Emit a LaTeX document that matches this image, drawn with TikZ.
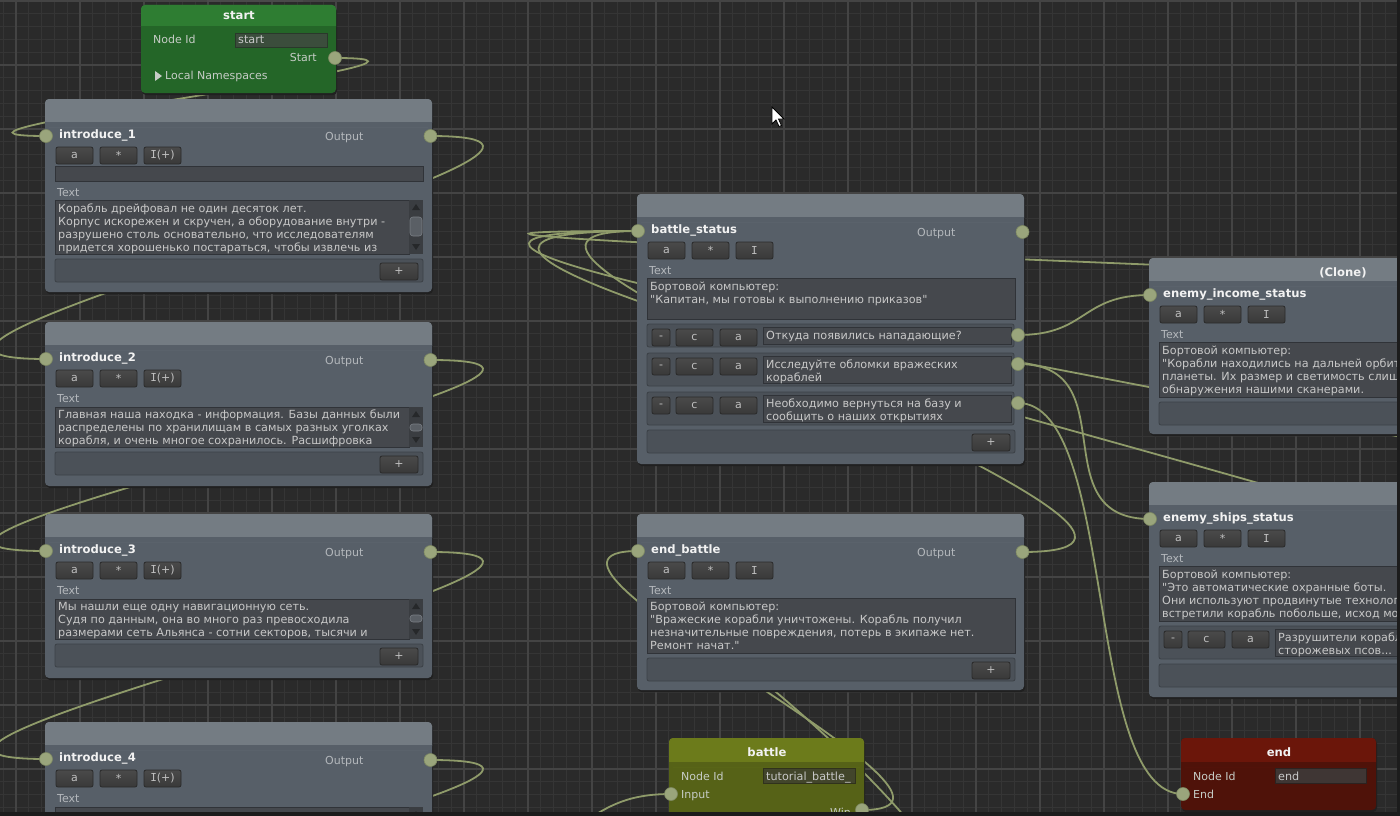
\documentclass[tikz,border=0pt]{standalone}
\usepackage{fontspec}
\setmainfont{DejaVu Sans}
\newfontfamily\monoI{DejaVu Sans Mono}
\usetikzlibrary{fit}
\pgfdeclarelayer{gridl}
\pgfdeclarelayer{wirel}
\pgfsetlayers{gridl,wirel,main}
\definecolor{bgc}{HTML}{2A2A2A}
\definecolor{gminor}{HTML}{353535}
\definecolor{gmajor}{HTML}{444444}
\definecolor{nbody}{HTML}{575F68}
\definecolor{nhead}{HTML}{747C83}
\definecolor{fieldc}{HTML}{45484D}
\definecolor{fieldb}{HTML}{303338}
\definecolor{barc}{HTML}{4B5158}
\definecolor{barb}{HTML}{3C4147}
\definecolor{btntop}{HTML}{4A4A4A}
\definecolor{btnbot}{HTML}{393939}
\definecolor{btnb}{HTML}{2A2A2A}
\definecolor{btnt}{HTML}{C0C0C0}
\definecolor{portc}{HTML}{9AA57C}
\definecolor{portd}{HTML}{7F8A63}
\definecolor{wirec}{HTML}{8F9B6A}
\definecolor{txtc}{HTML}{C8C8C8}
\definecolor{lblc}{HTML}{B4B8BC}
\definecolor{ttlc}{HTML}{F2F2F2}
\definecolor{shd}{HTML}{202020}
\definecolor{sgh}{HTML}{2E7D32}
\definecolor{sgb}{HTML}{246628}
\definecolor{sfc}{HTML}{3B4D3C}
\definecolor{sfb}{HTML}{2A382B}
\definecolor{bth}{HTML}{6C7B1B}
\definecolor{btb}{HTML}{566217}
\definecolor{bfc}{HTML}{42452B}
\definecolor{bfb}{HTML}{30321C}
\definecolor{enh}{HTML}{6B160A}
\definecolor{enb}{HTML}{4F1209}
\definecolor{efc}{HTML}{3F3634}
\definecolor{efb}{HTML}{2C2220}
\definecolor{clbl}{HTML}{C6CCC6}
\definecolor{scrbg}{HTML}{3A3D41}
\definecolor{scrar}{HTML}{26282A}
\definecolor{thumbc}{HTML}{5A5F65}
\definecolor{thumbb}{HTML}{7A7F85}
\definecolor{edgec}{HTML}{1C1C1C}
\definecolor{topbar}{HTML}{4A4A4A}
\newcommand{\uifs}{\fontsize{11.2}{13}\selectfont}
\newcommand{\uilf}{\fontsize{11}{13}\selectfont}
\newcommand{\uitf}{\bfseries\fontsize{11.6}{13}\selectfont}
\newcommand{\sq}{\XeTeXglyph\the\XeTeXcharglyph"22\relax}
\newcommand{\bI}{{\monoI I}}
\tikzset{
 port/.style={circle, fill=portc, draw=portd, line width=0.6pt, minimum size=13pt, inner sep=0pt},
 wire/.style={draw=wirec, line width=1.8pt},
 ttl/.style={anchor=base west, inner sep=0pt, text=ttlc, font=\uitf},
 lbl/.style={anchor=base west, inner sep=0pt, text=lblc, font=\uilf},
 body/.style={anchor=base west, inner sep=0pt, text=txtc, font=\uifs},
 btxt/.style={inner sep=0pt, text=btnt, font=\uilf},
 fieldbox/.style={fill=fieldc, draw=fieldb, line width=0.8pt},
 barbox/.style={fill=barc, draw=barb, line width=0.8pt, rounded corners=2pt},
 btnbox/.style={top color=btntop, bottom color=btnbot, draw=btnb, line width=0.8pt, rounded corners=2pt},
}
% frame: name,x1,y1,x2,y2,header bottom,header colour,body colour
\newcommand{\frm}[8]{%
 \fill[shd, rounded corners=4pt] (#2+1,#3+2) rectangle (#4+1,#5+2);
 \node[fit={(#2,#3)(#4,#5)}, inner sep=0pt, fill=#8, rounded corners=4pt] (#1) {};
 \fill[#7, rounded corners=4pt] (#2,#3) rectangle (#4,#6+5);
 \fill[#8] (#2,#6) rectangle (#4,#6+5);
}
\newcommand{\btn}[6]{%
 \path[btnbox] (#2,#3) rectangle (#4,#5);
 \node[btxt] (#1) at ({(#2+#4)/2},{(#3+#5)/2}) {#6};
}
\newcommand{\tl}[4]{\node[body] (#1) at (#2,#3) {#4};}
% grey node: name,x1,T,x2,B,title,third button
\newcommand{\gnode}[7]{%
 \frm{#1}{#2}{#3}{#4}{#5}{#3+23}{nhead}{nbody}
 \node[ttl] (#1t) at (#2+14,#3+39) {#6};
 \btn{#1ba}{#2+11}{#3+48}{#2+48}{#3+65}{a}
 \btn{#1bb}{#2+55}{#3+48}{#2+92}{#3+65}{*}
 \btn{#1bc}{#2+99}{#3+48}{#2+136}{#3+65}{#7}
 \node[port] (#1in) at (#2+1,#3+37) {};
}
\newcommand{\outp}[3]{%
 \node[lbl] (#1ol) at (#2-107,#3+4) {Output};
 \node[port] (#1out) at (#2-1.5,#3) {};
}
\newcommand{\choicerow}[7]{%
 \path[barbox] (#2+10,#4) rectangle (#3-10,#5);
 \btn{#1m}{#2+15}{#4+5}{#2+33}{#4+22}{-}
 \btn{#1c}{#2+39}{#4+5}{#2+76}{#4+22}{c}
 \btn{#1a}{#2+83}{#4+5}{#2+120}{#4+22}{a}
 \path[fieldbox] (#2+126,#4+3) rectangle (#3-13,#5-3);
 \node[body] (#1la) at (#2+129,#4+15) {#6};
 \node[body] (#1lb) at (#2+129,#4+28) {#7};
 \node[port] (#1p) at (#3-6,#4+11) {};
}
% scrollbar: name,x,y1,y2,thumb y1,thumb y2
\newcommand{\scb}[6]{%
 \fill[scrbg] (#2,#3) rectangle (#2+14,#4);
 \fill[scrar] (#2+3,#3+10) -- (#2+7,#3+4) -- (#2+11,#3+10) -- cycle;
 \fill[scrar] (#2+3,#4-10) -- (#2+7,#4-4) -- (#2+11,#4-10) -- cycle;
 \node[fit={(#2+1,#5)(#2+13,#6)}, inner sep=0pt, fill=thumbc, draw=thumbb, line width=0.6pt, rounded corners=3pt] (#1) {};
}
\begin{document}
\begin{tikzpicture}[x=1pt,y=-1pt]
\useasboundingbox (0,0) rectangle (1400,816);
\begin{pgfonlayer}{gridl}
 \fill[bgc] (0,0) rectangle (1400,816);
 \foreach \i in {0,...,109} \draw[gminor, line width=1pt] ({3.2+12.8*\i},0) -- ({3.2+12.8*\i},816);
 \foreach \j in {0,...,63} \draw[gminor, line width=1pt] (0,{1+12.8*\j}) -- (1400,{1+12.8*\j});
 \foreach \i in {0,...,21} \draw[gmajor, line width=1.2pt] ({16+64*\i},0) -- ({16+64*\i},816);
 \foreach \j in {0,...,12} \draw[gmajor, line width=1.2pt] (0,{1+64*\j}) -- (1400,{1+64*\j});
 \fill[topbar] (207,0) rectangle (303,2);
\end{pgfonlayer}

% ---- start node
\frm{start}{141}{5}{336}{93}{26}{sgh}{sgb}
\node[ttl,anchor=base] (startt) at (239,20) {start};
\node[lbl,text=clbl] (startnl) at (153,44) {Node Id};
\path[fill=sfc,draw=sfb,line width=0.8pt] (235,33) rectangle (327,47);
\node[body] (startfv) at (238,44) {start};
\node[lbl,text=clbl,anchor=base east] (startsl) at (317,62) {Start};
\node[port] (so) at (335,58) {};
\fill[clbl] (155,71) -- (162,76) -- (155,81) -- cycle;
\node[lbl,text=clbl] (startln) at (165,80) {Local Namespaces};

% ---- introduce_1
\gnode{ia}{45}{99}{432}{292}{introduce\_1}{\bI(+)}
\outp{ia}{432}{136}
\path[fieldbox] (55,166) rectangle (423,181);
\node[lbl] (iatx) at (57,196) {Text};
\path[fieldbox] (55,200) rectangle (409,254);
\scb{iasc}{409}{200}{254}{217}{236}
\tl{ial1}{58}{212}{Корабль дрейфовал не один десяток лет.}
\tl{ial2}{58}{225}{Корпус искорежен и скручен, а оборудование внутри -}
\tl{ial3}{58}{238}{разрушено столь основательно, что исследователям}
\tl{ial4}{58}{251}{придется хорошенько постараться, чтобы извлечь из}
\path[barbox] (55,259) rectangle (423,282);
\btn{iapl}{380}{263}{418}{280}{+}

% ---- introduce_2
\gnode{ib}{45}{322}{432}{486}{introduce\_2}{\bI(+)}
\outp{ib}{432}{360}
\node[lbl] (ibtx) at (57,402) {Text};
\path[fieldbox] (55,407) rectangle (409,447);
\scb{ibsc}{409}{407}{447}{424}{431}
\tl{ibl1}{58}{418}{Главная наша находка - информация. Базы данных были}
\tl{ibl2}{58}{431}{распределены по хранилищам в самых разных уголках}
\tl{ibl3}{58}{444}{корабля, и очень многое сохранилось. Расшифровка}
\path[barbox] (55,452) rectangle (423,475);
\btn{ibpl}{380}{456}{418}{473}{+}

% ---- introduce_3
\gnode{ic}{45}{514}{432}{678}{introduce\_3}{\bI(+)}
\outp{ic}{432}{552}
\node[lbl] (ictx) at (57,594) {Text};
\path[fieldbox] (55,599) rectangle (409,639);
\scb{icsc}{409}{599}{639}{615}{622}
\tl{icl1}{58}{610}{Мы нашли еще одну навигационную сеть.}
\tl{icl2}{58}{623}{Судя по данным, она во много раз превосходила}
\tl{icl3}{58}{636}{размерами сеть Альянса - сотни секторов, тысячи и}
\path[barbox] (55,644) rectangle (423,667);
\btn{icpl}{380}{648}{418}{665}{+}

% ---- introduce_4
\gnode{id}{45}{722}{432}{900}{introduce\_4}{\bI(+)}
\outp{id}{432}{760}
\node[lbl] (idtx) at (57,802) {Text};
\path[fieldbox] (55,807) rectangle (409,850);
\scb{idsc}{409}{807}{850}{822}{828}

% ---- battle_status
\gnode{bs}{637}{194}{1024}{464}{battle\_status}{\bI}
\outp{bs}{1024}{232}
\node[lbl] (bstx) at (649,274) {Text};
\path[fieldbox] (647,278) rectangle (1015,319);
\tl{bsl1}{650}{290}{Бортовой компьютер:}
\tl{bsl2}{650}{303}{\sq Капитан, мы готовы к выполнению приказов\sq}
\choicerow{bsca}{637}{1024}{324}{347}{Откуда появились нападающие?}{}
\choicerow{bscb}{637}{1024}{353}{386}{Исследуйте обломки вражеских}{кораблей}
\choicerow{bscc}{637}{1024}{392}{425}{Необходимо вернуться на базу и}{сообщить о наших открытиях}
\path[barbox] (647,430) rectangle (1015,453);
\btn{bspl}{972}{434}{1010}{451}{+}

% ---- end_battle
\gnode{eb}{637}{514}{1024}{690}{end\_battle}{\bI}
\outp{eb}{1024}{552}
\node[lbl] (ebtx) at (649,594) {Text};
\path[fieldbox] (647,598) rectangle (1015,653);
\tl{ebl1}{650}{610}{Бортовой компьютер:}
\tl{ebl2}{650}{623}{\sq Вражеские корабли уничтожены. Корабль получил}
\tl{ebl3}{650}{636}{незначительные повреждения, потерь в экипаже нет.}
\tl{ebl4}{650}{649}{Ремонт начат.\sq}
\path[barbox] (647,658) rectangle (1015,681);
\btn{ebpl}{972}{662}{1010}{679}{+}

% ---- enemy_income_status
\gnode{ei}{1149}{258}{1536}{434}{enemy\_income\_status}{\bI}
\node[ttl,anchor=base] (eiclone) at (1343,276) {(Clone)};
\coordinate (eiout) at (1535,293);
\node[lbl] (eitx) at (1161,338) {Text};
\path[fieldbox] (1159,342) rectangle (1527,397);
\tl{eil1}{1162}{354}{Бортовой компьютер:}
\tl{eil2}{1162}{367}{\sq Корабли находились на дальней орбит}
\tl{eil3}{1162}{380}{планеты. Их размер и светимость слишк}
\tl{eil4}{1162}{393}{обнаружения нашими сканерами.}
\path[barbox] (1159,402) rectangle (1527,425);

% ---- enemy_ships_status
\gnode{es}{1149}{482}{1536}{697}{enemy\_ships\_status}{\bI}
\coordinate (esout) at (1535,519);
\node[lbl] (estx) at (1161,562) {Text};
\path[fieldbox] (1159,566) rectangle (1527,621);
\tl{esl1}{1162}{578}{Бортовой компьютер:}
\tl{esl2}{1162}{591}{\sq Это автоматические охранные боты.}
\tl{esl3}{1162}{604}{Они используют продвинутые технолог}
\tl{esl4}{1162}{617}{встретили корабль побольше, исход мо}
\choicerow{esca}{1149}{1536}{626}{659}{Разрушители корабл}{сторожевых псов...}
\path[barbox] (1159,664) rectangle (1527,687);

% ---- battle
\frm{bt}{669}{738}{864}{850}{762}{bth}{btb}
\node[ttl,anchor=base] (btt) at (767,756) {battle};
\node[lbl,text=clbl] (btnl) at (681,780) {Node Id};
\path[fill=bfc,draw=bfb,line width=0.8pt] (763,768) rectangle (855,783);
\node[body] (btfv) at (766,780) {tutorial\_battle\_};
\node[lbl,text=clbl] (btil) at (681,798) {Input};
\node[port] (bin) at (671,794) {};
\node[lbl,text=clbl,anchor=base east] (btwl) at (851,816) {Win};
\node[port] (bwin) at (862,810) {};

% ---- end
\frm{en}{1181}{738}{1376}{810}{762}{enh}{enb}
\node[ttl,anchor=base] (ent) at (1279,756) {end};
\node[lbl,text=clbl] (ennl) at (1193,780) {Node Id};
\path[fill=efc,draw=efb,line width=0.8pt] (1275,768) rectangle (1366,783);
\node[body] (enfv) at (1278,780) {end};
\node[lbl,text=clbl] (enel) at (1193,798) {End};
\node[port] (enin) at (1183,794) {};

% ---- free ends
\coordinate (iein) at (46,950);
\coordinate (bsrc) at (560,840);
\coordinate (lose) at (916,830);
\coordinate (hid) at (752,672);

% ---- connectors
\begin{pgfonlayer}{wirel}
\begin{scope}
 \clip (0,0) rectangle (1400,816);
 \draw[wire] (so.center) .. controls +(185,0) and +(-186,0) .. (iain.center);
 \draw[wire] (iaout.center) .. controls +(280,0) and +(-280,0) .. (ibin.center);
 \draw[wire] (ibout.center) .. controls +(280,0) and +(-280,0) .. (icin.center);
 \draw[wire] (icout.center) .. controls +(280,0) and +(-280,0) .. (idin.center);
 \draw[wire] (idout.center) .. controls +(280,0) and +(-280,0) .. (iein);
 \draw[wire] (bsrc) .. controls +(40,-30) and +(-50,0) .. (bin.center);
 \draw[wire] (bwin.center) .. controls +(165,0) and +(-165,0) .. (ebin.center);
 \draw[wire] (lose) .. controls +(-45,-55) and +(55,45) .. (hid);
 \draw[wire] (ebout.center) .. controls +(280,0) and +(-280,0) .. (bsin.center);
 \draw[wire] (eiout) .. controls +(600,0) and +(-600,0) .. (bsin.center);
 \draw[wire] (esout) .. controls +(600,0) and +(-600,0) .. (bsin.center);
 \draw[wire] (escap.center) .. controls +(560,0) and +(-560,0) .. (bsin.center);
 \draw[wire] (bscap.center) .. controls +(70,0) and +(-70,0) .. (eiin.center);
 \draw[wire] (bscbp.center) .. controls +(110,0) and +(-110,0) .. (esin.center);
 \draw[wire] (bsccp.center) .. controls +(100,0) and +(-100,0) .. (enin.center);
\end{scope}
\end{pgfonlayer}

% ---- cursor and window edges
\filldraw[fill=white, draw=black, line width=0.8pt] (772,107) -- (772,124) -- (776,120) -- (779,126.5) -- (781.5,125.5) -- (778.5,119) -- (784,119) -- cycle;
\fill[edgec] (0,812) rectangle (1400,816);
\fill[edgec] (1397,0) rectangle (1400,816);
\end{tikzpicture}
\end{document}
